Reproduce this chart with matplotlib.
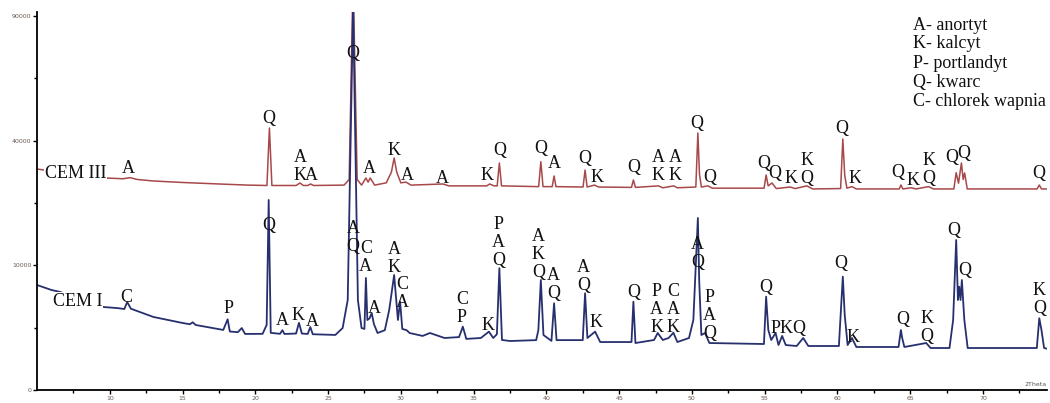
import numpy as np
import matplotlib
matplotlib.use('Agg')
import matplotlib.pyplot as plt

# XRD patterns (2Theta [deg], counts)
tt_cem3 = [5.0, 7.0, 8.5, 9.8, 10.9, 11.4, 11.9, 13.0, 15.0, 17.5, 19.5, 20.8, 20.97, 21.14,
           22.8, 23.07, 23.3, 23.6, 23.8, 24.0, 26.1, 26.45, 26.72, 27.0, 27.3, 27.6, 27.75,
           27.9, 28.2, 29.0, 29.35, 29.54, 29.72, 30.0, 30.35, 30.7, 32.9, 33.3, 35.9, 36.1,
           36.4, 36.62, 36.77, 36.92, 39.47, 39.62, 39.77, 40.4, 40.53, 40.66, 42.52, 42.66,
           42.8, 43.3, 43.6, 45.85, 45.98, 46.12, 47.7, 48.0, 48.75, 49.0, 50.27, 50.41, 50.52,
           50.65, 51.1, 51.4, 54.96, 55.1, 55.24, 55.5, 55.8, 56.75, 57.1, 57.9, 58.3, 60.22,
           60.37, 60.5, 60.65, 61.0, 61.3, 64.25, 64.36, 64.5, 65.05, 65.4, 66.26, 66.6, 68.0,
           68.16, 68.32, 68.52, 68.64, 68.74, 68.92, 73.72, 73.87, 74.02, 74.5]
i_cem3 = [31400, 30300, 29500, 28900, 28700, 29000, 28500, 28100, 27700, 27300, 27000, 26900, 44150, 26900,
          26900, 27560, 26900, 26900, 27300, 26900, 27000, 28500, 110000, 28500, 27000, 28900, 27800,
          28900, 27000, 27600, 30500, 34620, 30500, 27600, 27800, 27000, 27300, 26800, 26800, 27300,
          26800, 26800, 33140, 26800, 26600, 33530, 26600, 26600, 29460, 26600, 26500, 31120,
          26500, 27000, 26500, 26400, 28370, 26400, 26800, 26300, 26800, 26300, 26500, 42480, 30000,
          26500, 26800, 26200, 26200, 29730, 26800, 27560, 26100, 26500, 26100, 26800, 26000, 26100,
          40520, 29700, 26200, 26600, 26000, 26000, 27030, 26000, 26300, 26000, 26600, 26000, 26000,
          30370, 27500, 33140, 28500, 30300, 26000, 26000, 27030, 26000, 26000]

tt_cem1 = [5.0, 6.0, 6.6, 8.0, 9.3, 10.5, 11.0, 11.2, 11.45, 13.0, 15.0, 15.5, 15.7, 15.9, 17.8,
           18.1, 18.25, 18.8, 19.07, 19.3, 20.5, 20.78, 20.92, 21.06, 21.7, 21.86, 22.0, 22.8,
           23.0, 23.2, 23.6, 23.78, 23.95, 25.5, 26.0, 26.35, 26.72, 27.05, 27.3, 27.5, 27.6,
           27.7, 27.85, 28.0, 28.15, 28.4, 28.9, 29.2, 29.54, 29.8, 29.95, 30.1, 30.4, 30.6,
           31.5, 32.0, 33.0, 34.0, 34.26, 34.5, 35.5, 36.05, 36.35, 36.6, 36.77, 36.95, 37.5,
           39.3, 39.45, 39.62, 39.8, 40.35, 40.53, 40.7, 42.5, 42.66, 42.82, 43.35, 43.7, 45.85,
           45.98, 46.12, 47.4, 47.65, 48.0, 48.4, 48.73, 49.0, 49.8, 50.1, 50.25, 50.41, 50.5,
           50.65, 50.9, 51.2, 54.95, 55.1, 55.25, 55.45, 55.75, 55.95, 56.2, 56.45, 57.2, 57.65,
           58.0, 60.1, 60.37, 60.5, 60.7, 61.0, 61.3, 64.2, 64.36, 64.45, 64.6, 66.1, 66.4, 67.7,
           67.95, 68.16, 68.28, 68.37, 68.46, 68.55, 68.72, 68.95, 73.7, 73.87, 74.02, 74.2, 74.5]
i_cem1 = [7090, 6430, 6180, 5100, 4460, 4320, 4220, 4980, 4250, 3430, 2890, 2780, 2950, 2720, 2320,
          3215, 2200, 2150, 2470, 2020, 2030, 2720, 23220, 2100, 2030, 2300, 2020, 2050,
          2900, 2050, 2020, 2550, 2000, 1950, 2470, 5210, 95000, 5210, 2470, 2400, 8070,
          3150, 3300, 3810, 2800, 2090, 2300, 4115, 8510, 3150, 5015, 2400, 2300, 2090,
          1880, 2090, 1740, 1800, 2580, 1680, 1740, 2190, 1740, 2000, 9530, 1610, 1544,
          1600, 2316, 7780, 1946, 1550, 4835, 1600, 1600, 6015, 1740, 2190, 1480, 1480,
          5015, 1420, 1608, 2090, 1608, 1740, 2110, 1480, 1739, 3150, 9260, 19030, 7780,
          1946, 2090, 1420, 1360, 5600, 2316, 1608, 2090, 1300, 1880, 1300, 1245, 1740,
          1245, 1245, 8260, 3620, 1300, 1740, 1190, 1190, 2316, 1740, 1190, 1420, 1134, 1134,
          3150, 14470, 5210, 6860, 5210, 7780, 3150, 1134, 1134, 3310, 2316, 1134, 1080]

# phase labels: (2Theta, counts at label bottom, text)
labels_cem3 = [(11.25, 29180, 'A'), (20.94, 44490, 'Q'), (23.08, 27290, 'A\nK'), (23.88, 27290, 'A'),
               (26.72, 69210, 'Q'), (27.82, 29180, 'A'), (29.54, 34320, 'K'), (30.43, 27290, 'A'),
               (32.84, 26510, 'A'), (35.91, 27290, 'K'), (36.77, 34320, 'Q'), (39.62, 34830, 'Q'),
               (40.53, 30480, 'A'), (42.66, 31900, 'Q'), (43.47, 26840, 'K'), (45.98, 29540, 'Q'),
               (47.70, 27290, 'A\nK'), (48.85, 27290, 'A\nK'), (50.34, 42720, 'Q'), (51.25, 26840, 'Q'),
               (54.92, 30480, 'Q'), (55.72, 27750, 'Q'), (56.82, 26430, 'K'), (57.90, 26430, 'K\nQ'),
               (60.31, 41070, 'Q'), (61.22, 26430, 'K'), (64.15, 28180, 'Q'), (65.18, 25990, 'K'),
               (66.26, 26430, 'K\nQ'), (67.87, 32360, 'Q'), (68.71, 33350, 'Q'), (73.82, 27750, 'Q')]
labels_cem1 = [(11.16, 4570, 'C'), (18.15, 3456, 'P'), (20.94, 15650, 'Q'), (21.86, 2393, 'A'),
               (22.96, 2800, 'K'), (23.95, 2316, 'A'), (26.72, 11775, 'A\nQ'), (27.59, 8506, 'C\nA'),
               (28.18, 3400, 'A'), (29.54, 8403, 'A\nK'), (30.07, 4045, 'C\nA'), (34.19, 2659, 'C\nP'),
               (36.02, 2017, 'K'), (36.70, 9417, 'P\nA\nQ'), (39.45, 7684, 'A\nK\nQ'), (40.48, 4947, 'A\nQ'),
               (42.55, 5928, 'A\nQ'), (43.40, 2262, 'K'), (45.98, 5129, 'Q'), (47.59, 1897, 'P\nA\nK'),
               (48.73, 1897, 'C\nA\nK'), (50.38, 9154, 'A\nQ'), (51.21, 1463, 'P\nA\nQ'), (55.10, 5720, 'Q'),
               (56.64, 1786, 'PKQ'), (60.26, 8910, 'Q'), (61.06, 1262, 'K'), (64.50, 2472, 'Q'),
               (66.15, 1320, 'K\nQ'), (68.02, 14667, 'Q'), (68.73, 7925, 'Q'), (73.87, 3400, 'K\nQ')]

legend_lines = ['A- anortyt', 'K- kalcyt', 'P- portlandyt', 'Q- kwarc', 'C- chlorek wapnia']

serif = 'Liberation Serif'

fig = plt.figure(figsize=(10.5, 4.03), dpi=100)
ax = fig.add_axes([37/1050, 13/403, 1010/1050, 378/403])

ax.set_yscale('function', functions=(lambda v: np.sqrt(np.clip(v, 0, None)), lambda v: np.square(v)))
ax.plot(tt_cem3, i_cem3, color='#a8484a', lw=1.1)
ax.plot(tt_cem1, i_cem1, color='#27306e', lw=1.3)

ax.set_xlim(5, 74.4)
ax.set_ylim(0, 91900)


def put_label(tt, inten, text):
    # stacked letters, bottom line first
    for k, s in enumerate(text.split('\n')[::-1]):
        ax.annotate(s, xy=(tt, inten), xytext=(0, 2.9 + 13*k), textcoords='offset points',
                    ha='center', va='baseline', fontsize=13, family=serif, color='#111111')


for tt, inten, s in labels_cem3 + labels_cem1:
    put_label(tt, inten, s)

ax.text(5.55, 29000, 'CEM III', ha='left', va='baseline', fontsize=13, family=serif,
        color='#111111', bbox=dict(fc='white', ec='none', pad=0.5))
ax.text(6.08, 4570, 'CEM I', ha='left', va='baseline', fontsize=13, family=serif,
        color='#111111', bbox=dict(fc='white', ec='none', pad=0.5))

for k, s in enumerate(legend_lines):
    fig.text(913/1050, 1 - (29.5 + 19*k)/403, s, fontsize=13, family=serif,
             va='baseline', ha='left', color='#111111')

ax.text(1.0, 0.008, '2Theta', transform=ax.transAxes, ha='right', va='bottom',
        fontsize=4.5, color='#555555')

ax.set_xticks(np.arange(10, 71, 5))
ax.set_xticks(np.arange(7.5, 74, 5), minor=True)
ax.set_yticks([0, 10000, 40000, 90000])
ax.set_yticks([2500, 22500, 62500], minor=True)
ax.tick_params(which='major', direction='out', length=3, width=1, labelsize=4.5,
               labelcolor='#6b5a50', pad=1)
ax.tick_params(which='minor', direction='out', length=2, width=1)

for side in ['top', 'right']:
    ax.spines[side].set_visible(False)
for side in ['left', 'bottom']:
    ax.spines[side].set_linewidth(1.3)

fig.savefig('out.png', dpi=100)
